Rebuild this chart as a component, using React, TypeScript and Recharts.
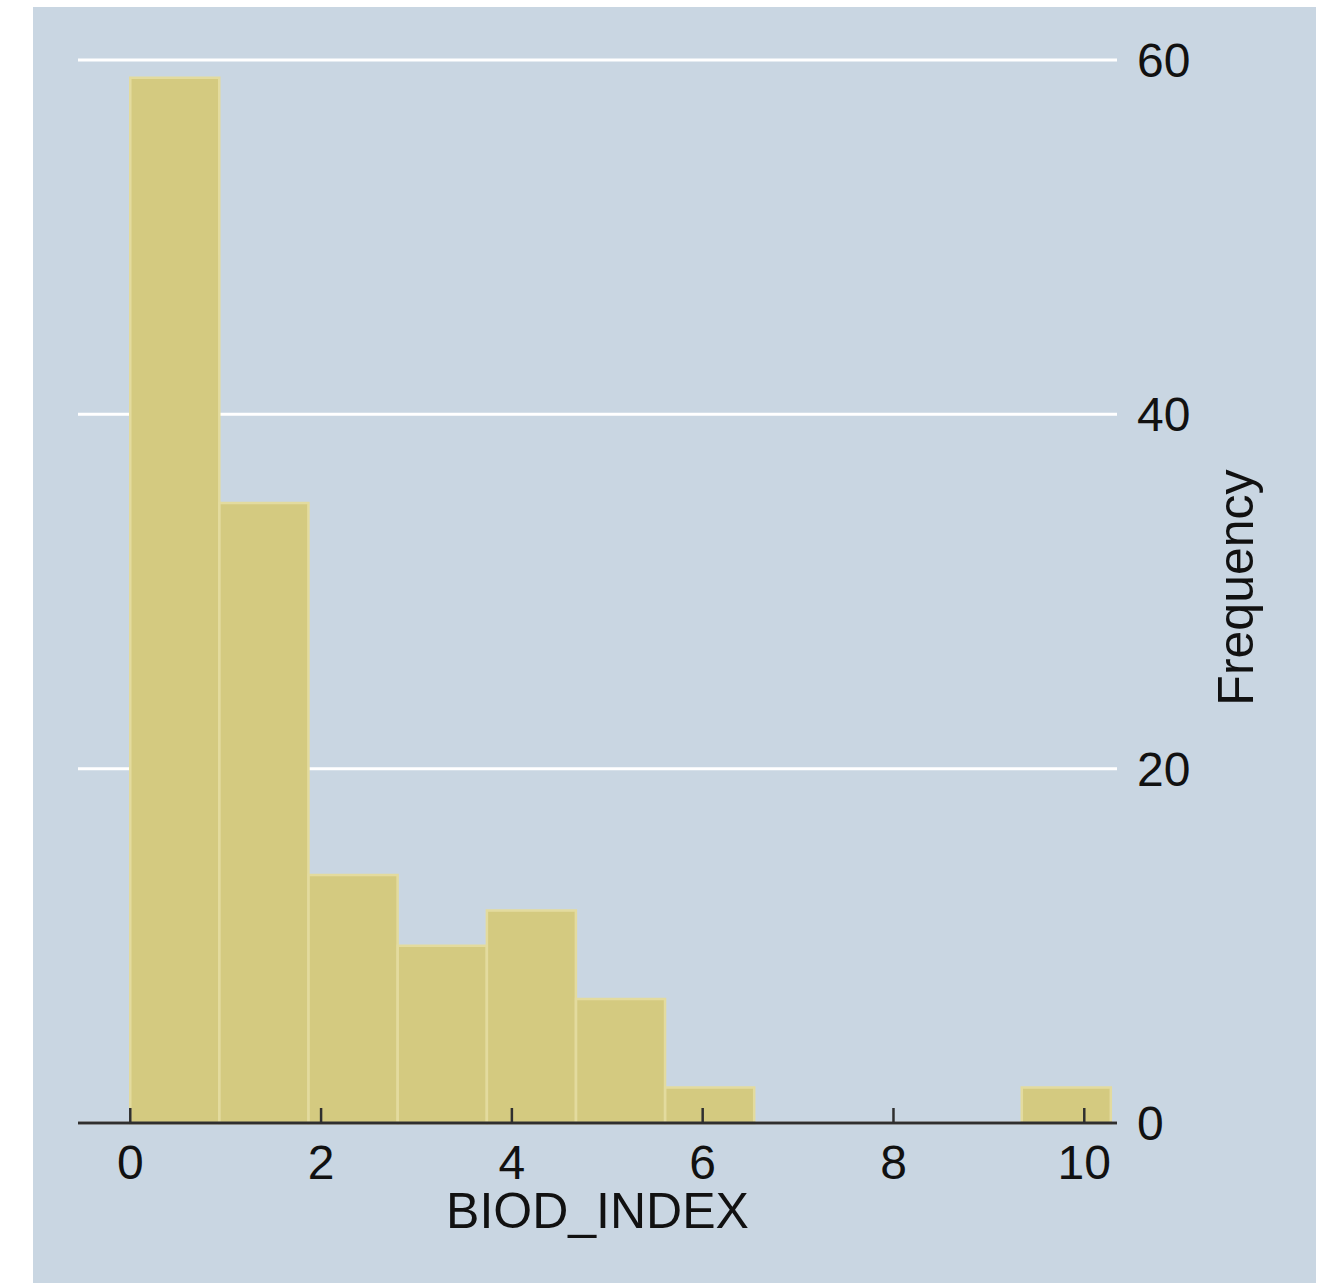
import React from "react";
import { ComposedChart, Bar, XAxis, YAxis, CartesianGrid } from "recharts";

// Histogram of BIOD_INDEX: 11 bins, lower edges and frequencies
const binStart = [0, 0.9345, 1.869, 2.8035, 3.738, 4.6725, 5.607, 6.5415, 7.476, 8.4105, 9.345];
const binWidth = 0.9345;
const frequency = [59, 35, 14, 10, 12, 7, 2, 0, 0, 0, 2];
const xTicks = [0, 2, 4, 6, 8, 10];
const yTicks = [0, 20, 40, 60];

const data = binStart.map((s, i) => ({ mid: s + binWidth / 2, freq: frequency[i] }));

const FONT = '"Liberation Sans", Arial, Helvetica, sans-serif';

const XTick = (props: any) => {
  const { x, y, payload } = props;
  return (
    <g>
      <line x1={x} x2={x} y1={y} y2={y - 15} stroke="#2f2f2f" strokeWidth={2.5} />
      <text x={x} y={y + 56} textAnchor="middle" fontSize={48} fontFamily={FONT} fill="#111">
        {payload.value}
      </text>
    </g>
  );
};

const XTitle = (props: any) => {
  const vb = props.viewBox;
  return (
    <text x={vb.x + vb.width / 2} y={vb.y + 105} textAnchor="middle" fontSize={50} fontFamily={FONT} fill="#111">
      BIOD_INDEX
    </text>
  );
};

const YTitle = (props: any) => {
  const vb = props.viewBox;
  const cx = vb.x + 136;
  const cy = vb.y + vb.height / 2 - 4;
  return (
    <text x={cx} y={cy} transform={`rotate(-90, ${cx}, ${cy})`} textAnchor="middle" fontSize={50} fontFamily={FONT} fill="#111">
      Frequency
    </text>
  );
};

export default function App() {
  return (
    <div style={{ position: "absolute", left: 33, top: 7, width: 1283, height: 1276, background: "#c9d6e2" }}>
      <ComposedChart
        width={1283}
        height={1276}
        data={data}
        margin={{ top: 53, right: 49, bottom: 40, left: 45 }}
        barCategoryGap={0}
        barGap={0}
      >
        <CartesianGrid vertical={false} horizontal={true} stroke="#ffffff" strokeWidth={3} />
        <Bar
          dataKey="freq"
          fill="#d4ca80"
          stroke="#e3db9e"
          strokeWidth={2.5}
          isAnimationActive={false}
        />
        <XAxis
          dataKey="mid"
          type="number"
          domain={[-0.548, 10.343]}
          allowDataOverflow
          ticks={xTicks}
          interval={0}
          tick={<XTick />}
          tickLine={false}
          tickSize={0}
          tickMargin={0}
          axisLine={{ stroke: "#2f2f2f", strokeWidth: 3 }}
          height={120}
          label={<XTitle />}
        />
        <YAxis
          orientation="right"
          type="number"
          domain={[0, 60]}
          ticks={yTicks}
          interval={0}
          axisLine={false}
          tickLine={false}
          tickSize={6}
          tickMargin={14}
          width={150}
          tick={{ fontSize: 48, fontFamily: FONT, fill: "#111" }}
          label={<YTitle />}
        />
      </ComposedChart>
    </div>
  );
}
